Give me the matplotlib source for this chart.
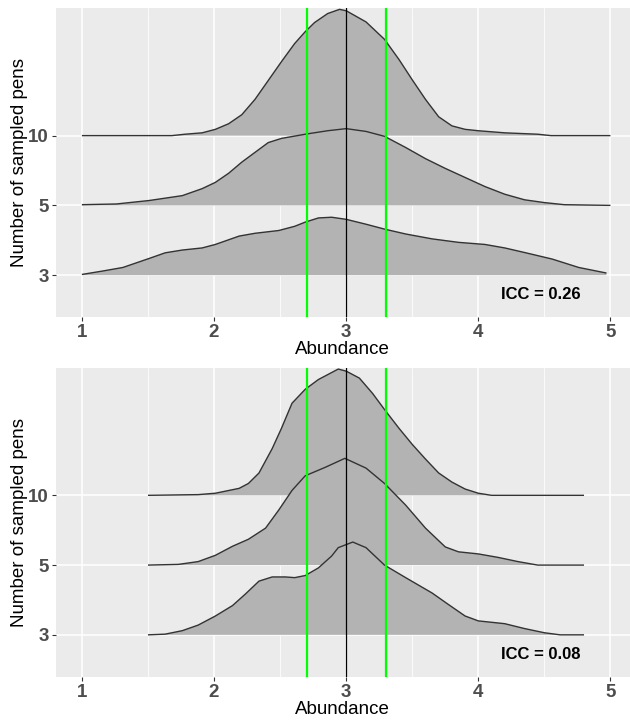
import matplotlib
matplotlib.use("Agg")
import matplotlib.pyplot as plt
import numpy as np

# ---------------- data ----------------
groups = ["3", "5", "10"]
xticks = [1, 2, 3, 4, 5]
ref_line = 3.0
band = [2.7, 3.3]
icc_labels = ["ICC = 0.26", "ICC = 0.08"]

# Panel A (ICC = 0.26): density heights (in ridge units)
a10_x = [1.0, 1.68, 1.78, 1.91, 2.01, 2.11, 2.21, 2.31, 2.41, 2.51, 2.61, 2.69, 2.76, 2.86, 2.95, 3.0,
         3.15, 3.29, 3.40, 3.50, 3.60, 3.70, 3.80, 3.90, 4.0, 4.2, 4.45, 4.55, 5.0]
a10_y = [0, 0, 0.02, 0.04, 0.09, 0.17, 0.30, 0.52, 0.79, 1.06, 1.32, 1.49, 1.62, 1.75, 1.81, 1.79,
         1.63, 1.38, 1.09, 0.80, 0.52, 0.27, 0.14, 0.09, 0.07, 0.04, 0.02, 0.00, 0]
a5_x = [1.0, 1.26, 1.51, 1.76, 1.91, 2.01, 2.11, 2.21, 2.31, 2.41, 2.51, 2.69, 2.86, 3.0, 3.15, 3.29,
        3.45, 3.60, 3.75, 3.90, 4.05, 4.20, 4.35, 4.50, 4.65, 5.0]
a5_y = [0.01, 0.02, 0.07, 0.14, 0.24, 0.33, 0.46, 0.62, 0.76, 0.90, 0.96, 1.02, 1.07, 1.10, 1.06, 0.99,
        0.83, 0.67, 0.53, 0.40, 0.27, 0.16, 0.08, 0.04, 0.01, 0.00]
a3_x = [1.0, 1.16, 1.31, 1.51, 1.63, 1.76, 1.91, 2.01, 2.19, 2.31, 2.49, 2.61, 2.69, 2.79, 2.89, 3.0,
        3.15, 3.29, 3.45, 3.65, 3.85, 4.05, 4.20, 4.36, 4.56, 4.76, 4.97]
a3_y = [0.01, 0.06, 0.11, 0.24, 0.32, 0.36, 0.39, 0.44, 0.56, 0.60, 0.64, 0.70, 0.76, 0.82, 0.83, 0.80,
        0.73, 0.66, 0.59, 0.52, 0.47, 0.44, 0.39, 0.32, 0.23, 0.11, 0.03]

# Panel B (ICC = 0.08)
b10_x = [1.5, 1.88, 2.01, 2.19, 2.26, 2.34, 2.44, 2.51, 2.59, 2.69, 2.79, 2.89, 2.94, 3.0, 3.10, 3.20,
         3.29, 3.40, 3.50, 3.60, 3.70, 3.80, 3.90, 4.0, 4.10, 4.8]
b10_y = [0, 0.01, 0.03, 0.10, 0.17, 0.32, 0.67, 0.96, 1.32, 1.52, 1.66, 1.76, 1.81, 1.78, 1.68, 1.46,
         1.23, 0.96, 0.73, 0.52, 0.32, 0.19, 0.09, 0.03, 0.00, 0]
b5_x = [1.5, 1.73, 1.88, 2.01, 2.14, 2.26, 2.39, 2.49, 2.59, 2.69, 2.84, 2.99, 3.15, 3.29, 3.45, 3.60,
        3.75, 3.85, 4.0, 4.15, 4.30, 4.45, 4.8]
b5_y = [0, 0.01, 0.05, 0.14, 0.27, 0.37, 0.53, 0.79, 1.07, 1.28, 1.40, 1.53, 1.39, 1.17, 0.86, 0.53,
        0.26, 0.19, 0.16, 0.11, 0.05, 0, 0]
b3_x = [1.5, 1.63, 1.76, 1.88, 2.01, 2.14, 2.24, 2.34, 2.44, 2.54, 2.61, 2.69, 2.79, 2.89, 2.94, 3.05,
        3.15, 3.29, 3.45, 3.65, 3.77, 3.90, 4.0, 4.20, 4.35, 4.50, 4.62, 4.8]
b3_y = [0, 0.01, 0.06, 0.14, 0.27, 0.42, 0.59, 0.77, 0.83, 0.83, 0.82, 0.85, 0.96, 1.13, 1.25, 1.33,
        1.25, 1.00, 0.82, 0.60, 0.44, 0.27, 0.20, 0.16, 0.09, 0.03, 0, 0]

panels = [
    {"3": (a3_x, a3_y), "5": (a5_x, a5_y), "10": (a10_x, a10_y)},
    {"3": (b3_x, b3_y), "5": (b5_x, b5_y), "10": (b10_x, b10_y)},
]

# ---------------- style ----------------
tick_font = ["Liberation Sans", "DejaVu Sans"]
text_font = ["Liberation Sans", "DejaVu Sans"]

fig = plt.figure(figsize=(6.3, 7.23), dpi=100)
W, H = 630, 723
ax_left = 55.5 / W
ax_width = (630 - 55.5) / W
ax_h = (317 - 8.3) / H
bottoms = [1 - 317 / H, 1 - 676.7 / H]

for pi, (panel, bot) in enumerate(zip(panels, bottoms)):
    ax = fig.add_axes([ax_left, bot, ax_width, ax_h])
    ax.set_facecolor("#EBEBEB")
    for s in ax.spines.values():
        s.set_visible(False)
    ax.set_xlim(0.8, 5.148)
    ax.set_ylim(0.40, 4.825)

    # grid
    for xv in [1.5, 2.5, 3.5, 4.5]:
        ax.axvline(xv, color="white", lw=0.55, zorder=0.5)
    for xv in xticks:
        ax.axvline(xv, color="white", lw=1.1, zorder=0.6)
    for yi in range(len(groups)):
        ax.axhline(yi + 1, color="white", lw=1.1, zorder=0.6)

    # ridges: top group drawn first, lower groups overlap
    for k, g in enumerate(reversed(groups)):
        base = groups.index(g) + 1
        xs, hs = panel[g]
        xs = np.asarray(xs)
        ys = base + np.asarray(hs)
        z = 1 + k
        ax.fill_between(xs, base, ys, facecolor="#B3B3B3", edgecolor="none", zorder=z)
        ax.plot(xs, ys, color="#333333", lw=1.0, zorder=z + 0.1, solid_capstyle="butt",
                solid_joinstyle="round")

    for bx in band:
        ax.axvline(bx, color="#00FF00", lw=1.6, zorder=10)
    ax.axvline(ref_line, color="black", lw=0.9, zorder=10)

    ax.text(4.47, 0.72, icc_labels[pi], ha="center", va="center", fontsize=12,
            fontweight="bold", family=text_font, color="black", zorder=11)

    ax.set_xticks(xticks)
    ax.set_xticklabels([str(v) for v in xticks], family=tick_font, fontsize=13.5,
                       fontweight="bold", color="#4D4D4D")
    ax.set_yticks(range(1, len(groups) + 1))
    ax.set_yticklabels(groups, family=tick_font, fontsize=13.5, fontweight="bold", color="#4D4D4D")
    ax.tick_params(axis="both", length=3, width=0.8, color="#333333", pad=2)
    ax.set_xlabel("Abundance", family=text_font, fontsize=13.5, labelpad=0)
    ax.set_ylabel("Number of sampled pens", family=text_font, fontsize=13.5, labelpad=0)

fig.savefig("out.png", dpi=100, facecolor="white")
